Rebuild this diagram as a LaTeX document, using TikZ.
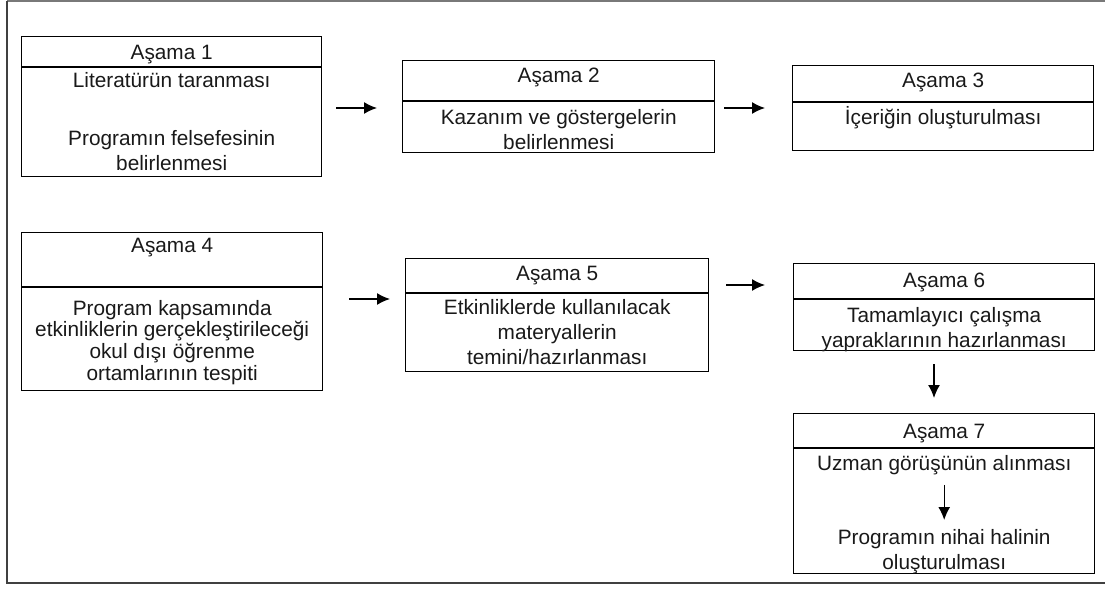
\documentclass[tikz,border=0pt]{standalone}
\usepackage{fontspec}
\setmainfont{Liberation Sans}
\usetikzlibrary{arrows.meta}
\tikzset{>={Latex[length=13pt,width=12pt]}}
\colorlet{framecol}{black!75}
\colorlet{txtcol}{black!90}
\newcommand{\tstrut}{\rule{0pt}{19pt}}
\tikzstyle{stagebox}=[draw,line width=1.4pt,inner sep=0pt,anchor=north west]
\tikzset{
  stagetxt/.style={txtcol,inner sep=0pt,anchor=north,align=center,
                   font=\fontsize{20.8}{#1}\selectfont},
  stagetxt/.default=25,
  flow/.style={->,line width=1.4pt}}

\begin{document}
\begin{tikzpicture}[x=1pt,y=-1pt]
  \useasboundingbox (0,0) rectangle (1105,589);

  % FRAME
  \draw[framecol!70,line width=1.5pt] (7,0.75) -- (1105,0.75);
  \draw[framecol,line width=2pt] (7,0.75) -- (7,583) -- (1105,583);

  % STAGES
  \foreach \n/\x/\y/\w/\h/\d/\t in {1/21/36/300/140/67/59.5,
      2/402/60/312/92/101/82.5, 3/792/65/301/85/102/87.5,
      4/21/232/301/158/287/252.5, 5/405/258/303/113/293/280.5,
      6/793/263/301/87/299/287.5, 7/793/413/301/160/448/438.5}{
    \node[stagebox,minimum width=\w,minimum height=\h] (s\n) at (\x,\y) {};
    \draw[line width=1.4pt] (s\n.west |- 0,\d) -- (s\n.east |- 0,\d);
    \node[stagetxt] (h\n) at (s\n.north |- 0,\t-19) {\tstrut Aşama \n};
  }

  % TASKS
  \node[stagetxt] (b1) at (s1.north |- 0,68)
    {\tstrut Literatürün taranması\\[33pt]Programın felsefesinin\\belirlenmesi};
  \node[stagetxt] (b2) at (s2.north |- 0,105)
    {\tstrut Kazanım ve göstergelerin\\belirlenmesi};
  \node[stagetxt] (b3) at (s3.north |- 0,105) {\tstrut İçeriğin oluşturulması};
  \node[stagetxt=21.7] (b4) at (s4.north |- 0,296)
    {\tstrut Program kapsamında\\etkinliklerin gerçekleştirileceği\\okul dışı öğrenme\\ortamlarının tespiti};
  \node[stagetxt] (b5) at (s5.north |- 0,295)
    {\tstrut Etkinliklerde kullanılacak\\materyallerin\\temini/hazırlanması};
  \node[stagetxt] (b6) at (s6.north |- 0,303)
    {\tstrut Tamamlayıcı çalışma\\yapraklarının hazırlanması};
  \node[stagetxt] (u7) at (s7.north |- 0,451) {\tstrut Uzman görüşünün alınması};
  \node[stagetxt] (p7) at (s7.north |- 0,525)
    {\tstrut Programın nihai halinin\\oluşturulması};

  % ARROWS
  \foreach \p/\q/\yy/\sa/\sb in {1/2/108/14/25, 2/3/108/9/27,
      4/5/299/26/15, 5/6/285/17/28}
    \draw[flow,shorten <=\sa,shorten >=\sb] (s\p.east |- 0,\yy) -- (s\q.west |- 0,\yy);
  \draw[flow,shorten <=13,shorten >=15] (s6.south -| 934,0) -- (s7.north -| 934,0);
  \draw[flow,shorten <=10,shorten >=5] (u7) -- (p7);

\end{tikzpicture}
\end{document}
